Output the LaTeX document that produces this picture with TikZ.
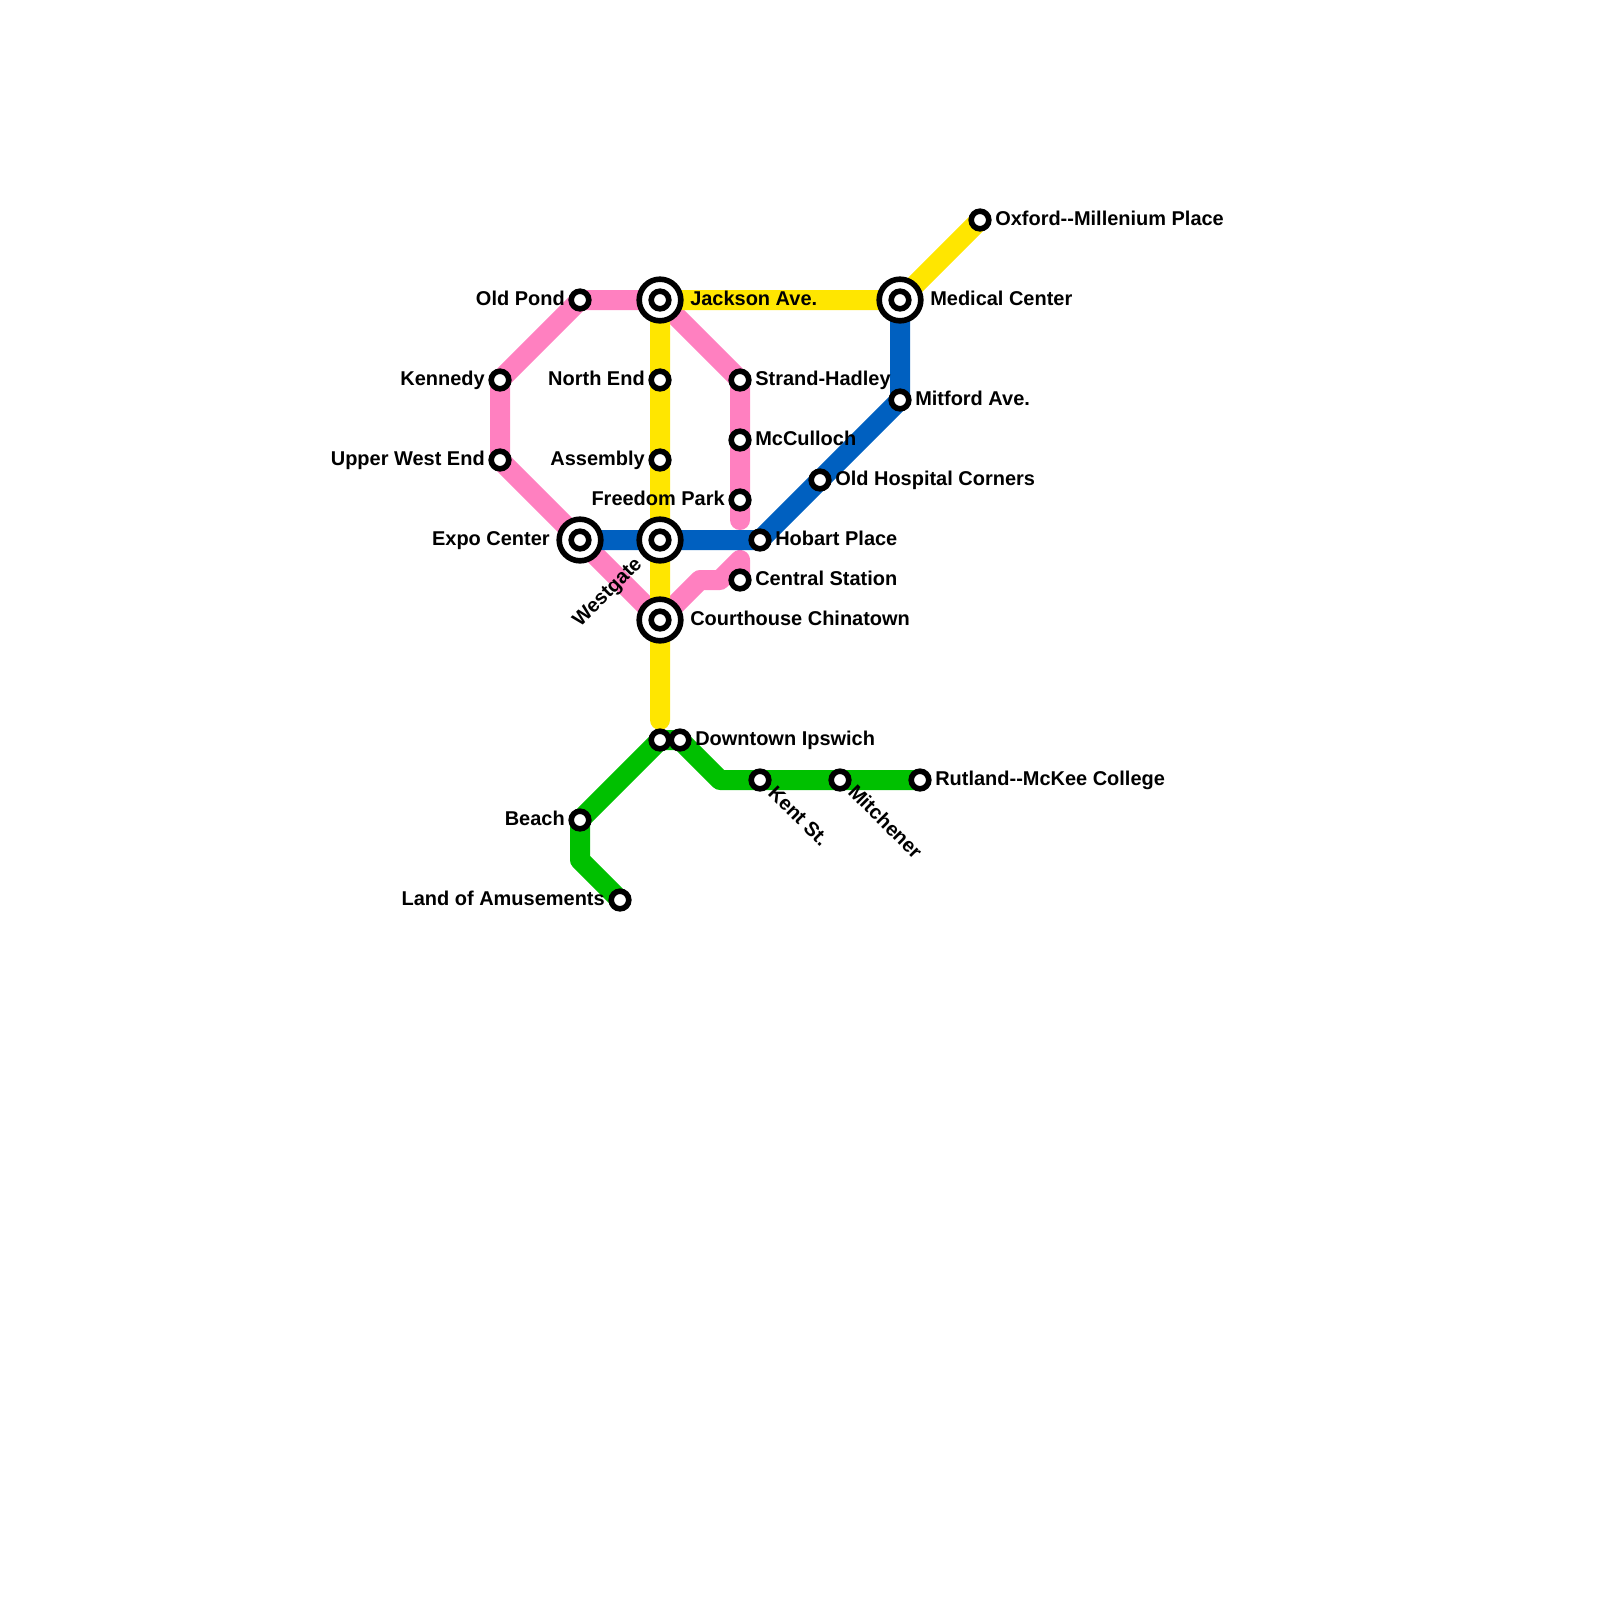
\documentclass[tikz,border=0pt]{standalone}
\usepackage{xcolor}
\usepackage{fontspec}
\setmainfont{Liberation Sans}
\usetikzlibrary{backgrounds}

\definecolor{pinkline}{HTML}{FF80C0}
\definecolor{yellowline}{HTML}{FFE600}
\definecolor{blueline}{HTML}{0060C0}
\definecolor{greenline}{HTML}{00C000}

\tikzset{
    stop/.style={draw, circle, fill=white, line width=1.4mm, minimum size=4.4mm, inner sep=0pt},
    hub/.style={draw, circle, fill=white, line width=1.4mm, minimum size=10.4mm, inner sep=0pt},
    tag/.style={font=\fontsize{14.2pt}{16pt}\selectfont\bfseries, inner sep=0pt},
    route/.style={line width=5mm, line join=round, line cap=round}
}

\begin{document}
\begin{tikzpicture}[x=0.025cm, y=-0.025cm]
    \useasboundingbox (0,0) rectangle (1600,1600);

    % Interchanges
    \node[hub] (jackson) at (660,300) {};
    \node[stop] (jacksonin) at (660,300) {};
    \node[hub] (medical) at (900,300) {};
    \node[stop] (medicalin) at (900,300) {};
    \node[hub] (expo) at (580,540) {};
    \node[stop] (expoin) at (580,540) {};
    \node[hub] (westgatehub) at (660,540) {};
    \node[stop] (westgatein) at (660,540) {};
    \node[hub] (court) at (660,620) {};
    \node[stop] (courtin) at (660,620) {};

    % Stations
    \node[stop] (oxford) at (980,220) {};
    \node[stop] (oldpond) at (580,300) {};
    \node[stop] (kennedy) at (500,380) {};
    \node[stop] (upperwest) at (500,460) {};
    \node[stop] (northend) at (660,380) {};
    \node[stop] (assembly) at (660,460) {};
    \node[stop] (strand) at (740,380) {};
    \node[stop] (mcculloch) at (740,440) {};
    \node[stop] (freedom) at (740,500) {};
    \node[stop] (hobart) at (760,540) {};
    \node[stop] (central) at (740,580) {};
    \node[stop] (mitford) at (900,400) {};
    \node[stop] (hospital) at (820,480) {};
    \node[stop] (endleft) at (660,740) {};
    \node[stop] (downtown) at (680,740) {};
    \node[stop] (beach) at (580,820) {};
    \node[stop] (land) at (620,900) {};
    \node[stop] (kent) at (760,780) {};
    \node[stop] (mitchener) at (840,780) {};
    \node[stop] (rutland) at (920,780) {};

    % Free ends and bends
    \coordinate (pinkend) at (740,520);
    \coordinate (pinkbenda) at (700,580);
    \coordinate (pinkbendb) at (720,580);
    \coordinate (pinkbendc) at (740,560);
    \coordinate (yellowend) at (660,720);
    \coordinate (greenbenda) at (580,860);
    \coordinate (greenbendb) at (720,780);

    % Lines
    \begin{scope}[on background layer]
        \draw[route, pinkline] (jackson.center) -- (oldpond.center) -- (kennedy.center) -- (upperwest.center) -- (expo.center) -- (court.center);
        \draw[route, pinkline] (jackson.center) -- (strand.center) -- (mcculloch.center) -- (freedom.center) -- (pinkend);
        \draw[route, pinkline] (court.center) -- (pinkbenda) -- (pinkbendb) -- (pinkbendc) -- (central.center);
        \draw[route, greenline] (land.center) -- (greenbenda) -- (beach.center) -- (endleft.center) -- (downtown.center) -- (greenbendb) -- (kent.center) -- (mitchener.center) -- (rutland.center);
        \draw[route, yellowline] (oxford.center) -- (medical.center) -- (jackson.center) -- (northend.center) -- (assembly.center) -- (westgatehub.center) -- (court.center) -- (yellowend);
        \draw[route, blueline] (expo.center) -- (westgatehub.center) -- (hobart.center) -- (hospital.center) -- (mitford.center) -- (medical.center);
    \end{scope}

    % Labels on the right
    \node[tag, anchor=base west] (oxfordtag) at (995,225) {Oxford-{}-Millenium Place};
    \node[tag, anchor=base west] (jacksontag) at (690,305) {Jackson Ave.};
    \node[tag, anchor=base west] (medicaltag) at (930,305) {Medical Center};
    \node[tag, anchor=base west] (strandtag) at (755,385) {Strand-Hadley};
    \node[tag, anchor=base west] (mitfordtag) at (915,405) {Mitford Ave.};
    \node[tag, anchor=base west] (mccullochtag) at (755,445) {McCulloch};
    \node[tag, anchor=base west] (hospitaltag) at (835,485) {Old Hospital Corners};
    \node[tag, anchor=base west] (hobarttag) at (775,545) {Hobart Place};
    \node[tag, anchor=base west] (centraltag) at (755,585) {Central Station};
    \node[tag, anchor=base west] (courttag) at (690,625) {Courthouse Chinatown};
    \node[tag, anchor=base west] (downtowntag) at (695,745) {Downtown Ipswich};
    \node[tag, anchor=base west] (rutlandtag) at (935,785) {Rutland-{}-McKee College};

    % Labels on the left
    \node[tag, anchor=base east] (oldpondtag) at (565,305) {Old Pond};
    \node[tag, anchor=base east] (kennedytag) at (485,385) {Kennedy};
    \node[tag, anchor=base east] (northendtag) at (645,385) {North End};
    \node[tag, anchor=base east] (upperwesttag) at (485,465) {Upper West End};
    \node[tag, anchor=base east] (assemblytag) at (645,465) {Assembly};
    \node[tag, anchor=base east] (freedomtag) at (725,505) {Freedom Park};
    \node[tag, anchor=base east] (expotag) at (550,545) {Expo Center};
    \node[tag, anchor=base east] (beachtag) at (565,825) {Beach};
    \node[tag, anchor=base east] (landtag) at (605,905) {Land of Amusements};

    % Slanted labels
    \node[tag, anchor=base east, rotate=45] (westgatetag) at (643,565) {Westgate};
    \node[tag, anchor=base west, rotate=-45] (kenttag) at (767,794) {Kent St.};
    \node[tag, anchor=base west, rotate=-45] (mitchenertag) at (847,793) {Mitchener};
\end{tikzpicture}
\end{document}
